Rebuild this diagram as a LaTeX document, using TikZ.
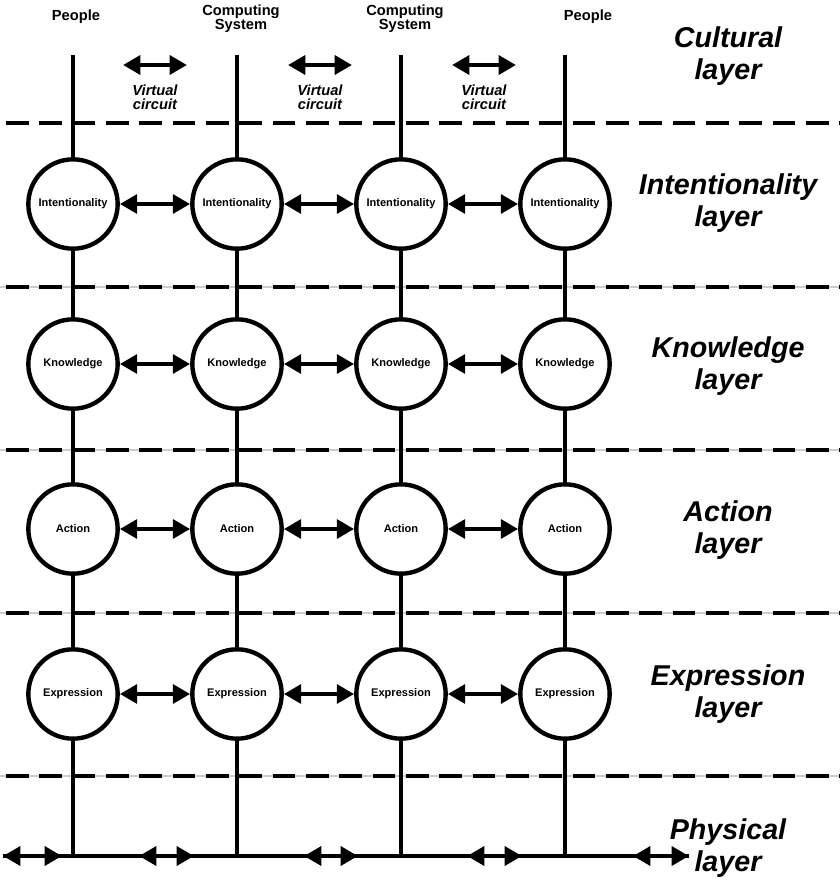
\documentclass[tikz,border=0pt]{standalone}
\usepackage{fontspec}
\setmainfont{Liberation Sans}
\usetikzlibrary{arrows.meta}
\begin{document}
\begin{tikzpicture}[x=0.75pt,y=-0.75pt,
  lw/.style={line width=3.3pt},
  circ/.style={circle,draw,line width=3.3pt,minimum size=67pt,inner sep=0pt,fill=white,font=\bfseries\fontsize{8.3}{9}\selectfont},
  dar/.style={lw,{Triangle[length=13pt,width=14pt]}-{Triangle[length=13pt,width=14pt]}},
  layerline/.style={line width=3.4pt,dash pattern=on 17pt off 8pt},
  hdr/.style={font=\bfseries\fontsize{11}{10.5}\selectfont,align=center},
  lay/.style={font=\bfseries\itshape\fontsize{21.5}{24}\selectfont,align=center},
  vc/.style={font=\bfseries\itshape\fontsize{11}{10.5}\selectfont,align=center}]
\useasboundingbox (0,0) rectangle (840,883);
% dashed layer lines
\foreach \y in {287,450,613,776}{\draw[gray!40,line width=1pt] (0,\y) -- (840,\y);}
\foreach \y/\n in {123/d0,287/d1,450/d2,613/d3,776/d4}{\coordinate (\n a) at (6,\y);\coordinate (\n b) at (840,\y);\draw[layerline] (\n a) -- (\n b);}
% columns
\foreach \x/\c in {73/1,237/2,401/3,565/4}{
  \coordinate (t\c) at (\x,55); \coordinate (b\c) at (\x,856);
  \draw[lw] (t\c) -- (b\c);
  \node[circ] (I\c) at (\x,204) {Intentionality};
  \node[circ] (K\c) at (\x,364) {Knowledge};
  \node[circ] (A\c) at (\x,529) {Action};
  \node[circ] (E\c) at (\x,694) {Expression};
}
\foreach \r in {I,K,A,E}{
  \draw[dar] (\r1) -- (\r2); \draw[dar] (\r2) -- (\r3); \draw[dar] (\r3) -- (\r4);}
% headers
\node[hdr] (h1) at (76,17) {People};
\node[hdr] (h2) at (241,19) {Computing\\System};
\node[hdr] (h3) at (405,19) {Computing\\System};
\node[hdr] (h4) at (588,17) {People};
% virtual circuits
\foreach \x/\n in {155/1,320/2,484/3}{
  \coordinate (va\n) at (\x-32,65); \coordinate (vb\n) at (\x+32,65);
  \draw[dar] (va\n) -- (vb\n);
  \node[vc] (vc\n) at (\x,97) {Virtual\\circuit};}
% physical
\coordinate (p0) at (3,856); \coordinate (p1) at (689,856);
\draw[lw] (p0) -- (p1);
\foreach \a/\b/\n in {3/62/1,139/194/2,304/358/3,467/522/4,633/689/5}{
  \coordinate (pa\n) at (\a,856); \coordinate (pb\n) at (\b,856);
  \draw[dar] (pa\n) -- (pb\n);}
% layer labels
\node[lay] (L0) at (728,56) {Cultural\\layer};
\node[lay] (L1) at (728,203) {Intentionality\\layer};
\node[lay] (L2) at (728,366) {Knowledge\\layer};
\node[lay] (L3) at (728,530) {Action\\layer};
\node[lay] (L4) at (728,694) {Expression\\layer};
\node[lay] (L5) at (728,848) {Physical\\layer};
\end{tikzpicture}
\end{document}
